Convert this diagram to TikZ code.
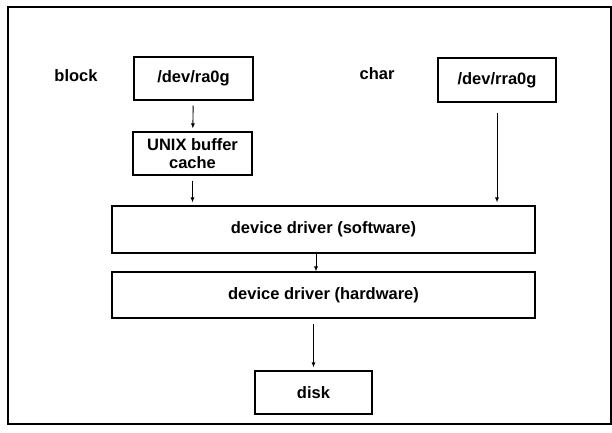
\documentclass[tikz,border=0pt]{standalone}
\usepackage{fontspec}
\setmainfont{Liberation Sans}
\usetikzlibrary{arrows.meta, positioning}

\begin{document}
\begin{tikzpicture}[
  x=1pt, y=-1pt,
  every node/.style={font=\fontsize{16.5}{19}\selectfont\bfseries},
  devbox/.style={draw, line width=1.1pt, align=center, inner sep=1pt,
                 minimum width=119pt, minimum height=43pt},
  drvbox/.style={draw, line width=1.1pt, minimum width=423pt, minimum height=47pt},
  arr/.style={-{Latex[length=5pt,width=4pt]}, line width=0.9pt,
              shorten <=5pt, shorten >=3pt}
]
  \useasboundingbox (0,0) rectangle (612,432);
  \draw[line width=1.4pt] (8,7) rectangle (611,424);

  %% block side
  \node (block) at (76,76) {block};
  \node[devbox] (ra)    at (193.5,78.5)  {/dev/ra0g};
  \node[devbox] (cache) at (192.5,153.5) {UNIX buffer\\[-1pt]cache};

  %% char side
  \node (char) at (377,74) {char};
  \node[devbox, minimum width=118pt, minimum height=44pt] (rra) at (497,80) {/dev/rra0g};

  %% drivers
  \node[drvbox] (sw) at (323.5,229.5) {device driver (software)};
  \node[drvbox, minimum height=46pt] (hw) at (323.5,295) {device driver (hardware)};

  %% disk
  \node[devbox, minimum width=117pt] (disk) at (313.5,392.5) {disk};

  %% arrows
  \draw[arr] (ra) -- (cache);
  \draw[arr] (cache.south) -- (cache.south |- sw.north);
  \draw[arr, shorten <=10pt] (rra.south) -- (rra.south |- sw.north);
  \draw[arr, shorten <=0pt, shorten >=0pt] (sw.south -| 316,0) -- (hw.north -| 316,0);
  \draw[arr] (hw.south -| disk.north) -- (disk.north);
\end{tikzpicture}
\end{document}
